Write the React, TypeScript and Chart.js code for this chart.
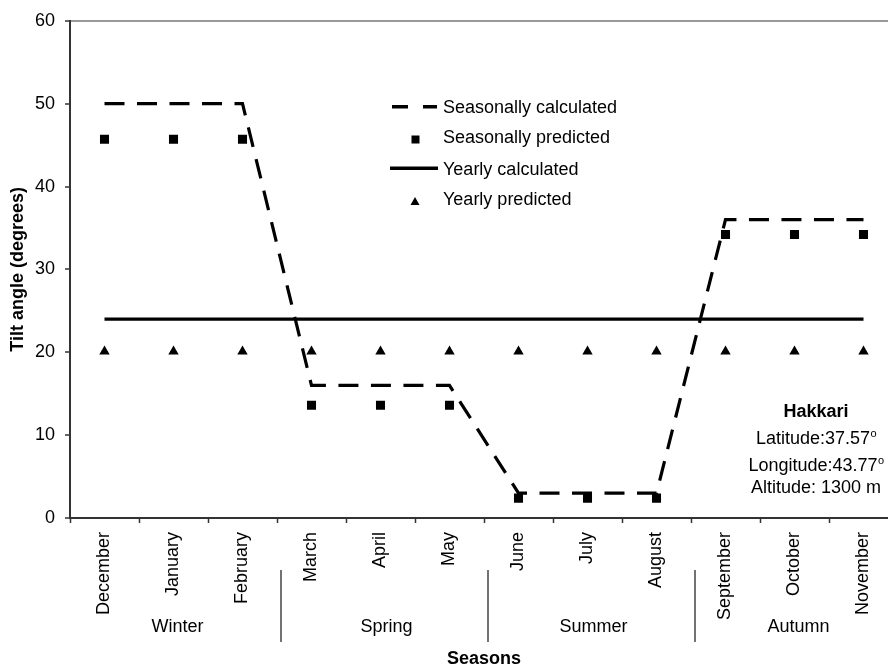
import React, { useEffect, useRef } from "react";
import { Chart, registerables } from "chart.js";

Chart.register(...registerables);

const FONT = '"Liberation Sans", Arial, Helvetica, sans-serif';

// ---- data ----
const months = ["December", "January", "February", "March", "April", "May", "June", "July", "August", "September", "October", "November"];
const seasons = ["Winter", "Spring", "Summer", "Autumn"];
const seasonallyCalculated = [50, 50, 50, 16, 16, 16, 3, 3, 3, 36, 36, 36];
const seasonallyPredicted = [45.7, 45.7, 45.7, 13.6, 13.6, 13.6, 2.4, 2.4, 2.4, 34.2, 34.2, 34.2];
const yearlyCalculated = [24, 24, 24, 24, 24, 24, 24, 24, 24, 24, 24, 24];
const yearlyPredicted = [20.1, 20.1, 20.1, 20.1, 20.1, 20.1, 20.1, 20.1, 20.1, 20.1, 20.1, 20.1];
const yMin = 0;
const yMax = 60;
const yStep = 10;
const seriesNames = ["Seasonally calculated", "Seasonally predicted", "Yearly calculated", "Yearly predicted"];
const xTitle = "Seasons";
const yTitle = "Tilt angle (degrees)";
const siteName = "Hakkari";
const siteLatitude = "Latitude:37.57";
const siteLongitude = "Longitude:43.77";
const siteAltitude = "Altitude: 1300 m";

const decorPlugin = {
  id: "decor",
  afterDraw(chart: any) {
    const ctx = chart.ctx as CanvasRenderingContext2D;
    const xs = chart.scales.x;
    const { left, right, top, bottom } = chart.chartArea;
    ctx.save();
    ctx.fillStyle = "#000";
    ctx.strokeStyle = "#000";

    // month labels (rotated)
    ctx.font = `18px ${FONT}`;
    months.forEach((m, i) => {
      const px = xs.getPixelForValue(i);
      ctx.save();
      ctx.translate(px, bottom + 14);
      ctx.rotate(-Math.PI / 2);
      ctx.textAlign = "right";
      ctx.textBaseline = "middle";
      ctx.fillText(m, 0, 0);
      ctx.restore();
    });

    // season separators
    const bounds: number[] = [left];
    for (let s = 1; s < seasons.length; s++) {
      const bx = (xs.getPixelForValue(3 * s - 1) + xs.getPixelForValue(3 * s)) / 2 + 4;
      bounds.push(bx);
      ctx.beginPath();
      ctx.strokeStyle = "#444";
      ctx.lineWidth = 1.5;
      ctx.moveTo(bx, bottom + 52);
      ctx.lineTo(bx, bottom + 124);
      ctx.stroke();
    }
    bounds.push(right);
    ctx.textAlign = "center";
    ctx.textBaseline = "alphabetic";
    seasons.forEach((s, i) => {
      const cx = (bounds[i] + bounds[i + 1]) / 2 + 2;
      ctx.fillText(s, cx, bottom + 114);
    });

    // axis titles
    ctx.font = `bold 18px ${FONT}`;
    ctx.fillText(xTitle, (left + right) / 2, bottom + 146);
    ctx.save();
    ctx.translate(23, (top + bottom) / 2);
    ctx.rotate(-Math.PI / 2);
    ctx.textAlign = "center";
    ctx.textBaseline = "alphabetic";
    ctx.fillText(yTitle, 0, 0);
    ctx.restore();

    // legend
    const rows = [108.3, 138.5, 169.7, 200];
    ctx.font = `18px ${FONT}`;
    ctx.textAlign = "left";
    ctx.textBaseline = "middle";
    seriesNames.forEach((n, i) => ctx.fillText(n, 443, rows[i]));
    ctx.strokeStyle = "#000";
    ctx.lineWidth = 3.5;
    ctx.lineCap = "butt";
    ctx.beginPath();
    ctx.moveTo(392, rows[0] - 1.5);
    ctx.lineTo(408, rows[0] - 1.5);
    ctx.moveTo(423, rows[0] - 1.5);
    ctx.lineTo(437, rows[0] - 1.5);
    ctx.stroke();
    ctx.fillRect(411.5, rows[1] - 3, 8, 8);
    ctx.beginPath();
    ctx.moveTo(390, rows[2] - 1.5);
    ctx.lineTo(438, rows[2] - 1.5);
    ctx.stroke();
    ctx.beginPath();
    ctx.moveTo(415, rows[3] - 3);
    ctx.lineTo(419.5, rows[3] + 5);
    ctx.lineTo(410.5, rows[3] + 5);
    ctx.closePath();
    ctx.fill();

    // site annotation
    const cx = 816;
    ctx.textAlign = "left";
    ctx.textBaseline = "alphabetic";
    ctx.font = `bold 18px ${FONT}`;
    const wName = ctx.measureText(siteName).width;
    ctx.fillText(siteName, cx - wName / 2, 417);
    const withSup = (t: string, base: number) => {
      ctx.font = `18px ${FONT}`;
      const w1 = ctx.measureText(t).width;
      ctx.font = `11px ${FONT}`;
      const w2 = ctx.measureText("o").width;
      const x0 = cx - (w1 + w2) / 2;
      ctx.font = `18px ${FONT}`;
      ctx.fillText(t, x0, base);
      ctx.font = `11px ${FONT}`;
      ctx.fillText("o", x0 + w1 + 0.5, base - 7.5);
    };
    withSup(siteLatitude, 444);
    withSup(siteLongitude, 471);
    ctx.font = `18px ${FONT}`;
    const wAlt = ctx.measureText(siteAltitude).width;
    ctx.fillText(siteAltitude, cx - wAlt / 2, 493);

    ctx.restore();
  },
};

export default function App() {
  const ref = useRef<HTMLCanvasElement | null>(null);
  useEffect(() => {
    if (!ref.current) return;
    const chart = new Chart(ref.current, {
      type: "line",
      data: {
        labels: months,
        datasets: [
          {
            label: seriesNames[0],
            data: seasonallyCalculated,
            borderColor: "#000",
            borderWidth: 3.2,
            borderDash: [20, 12.5],
            pointRadius: 0,
            tension: 0,
            fill: false,
          },
          {
            label: seriesNames[1],
            data: seasonallyPredicted,
            showLine: false,
            pointStyle: "rect",
            pointRadius: 6.4,
            pointBackgroundColor: "#000",
            pointBorderColor: "#000",
            pointBorderWidth: 0,
          },
          {
            label: seriesNames[2],
            data: yearlyCalculated,
            borderColor: "#000",
            borderWidth: 3.2,
            pointRadius: 0,
            tension: 0,
            fill: false,
          },
          {
            label: seriesNames[3],
            data: yearlyPredicted,
            showLine: false,
            pointStyle: "triangle",
            pointRadius: 6,
            pointBackgroundColor: "#000",
            pointBorderColor: "#000",
            pointBorderWidth: 0,
          },
        ],
      },
      options: {
        responsive: false,
        animation: false,
        events: [],
        layout: { padding: { top: 20, right: 12, left: 0, bottom: 0 } },
        plugins: { legend: { display: false }, tooltip: { enabled: false } },
        scales: {
          x: {
            type: "category",
            offset: true,
            grid: {
              offset: true,
              drawOnChartArea: false,
              drawTicks: true,
              tickLength: 5,
              tickColor: "#333",
              tickWidth: 1.5,
            },
            border: { display: true, color: "#333", width: 2 },
            ticks: { display: false },
            afterFit: (s: any) => {
              s.height = 148;
            },
          },
          y: {
            min: yMin,
            max: yMax,
            ticks: { stepSize: yStep, color: "#000", font: { family: FONT, size: 18 }, padding: 10 },
            grid: {
              drawOnChartArea: true,
              drawTicks: true,
              tickLength: 5,
              tickColor: "#333",
              tickWidth: 1.5,
              color: (c: any) => (c.tick && c.tick.value === yMax ? "#999" : "rgba(0,0,0,0)"),
              lineWidth: 2,
            },
            border: { display: true, color: "#333", width: 2 },
            afterFit: (s: any) => {
              s.width = 70;
            },
          },
        },
      },
      plugins: [decorPlugin],
    } as any);
    return () => chart.destroy();
  }, []);
  return (
    <div style={{ position: "fixed", left: 0, top: 0, width: 888, height: 666, overflow: "hidden", background: "#fff" }}>
      <canvas ref={ref} width={910} height={666} style={{ display: "block" }} />
    </div>
  );
}
